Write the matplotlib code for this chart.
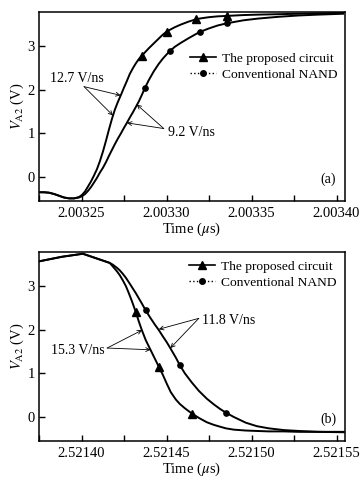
import matplotlib
matplotlib.use("Agg")
import matplotlib.pyplot as plt
from matplotlib.lines import Line2D
from matplotlib.ticker import FixedLocator, FormatStrFormatter, MultipleLocator

plt.rcParams['font.family'] = ['Liberation Serif', 'DejaVu Serif']
plt.rcParams['mathtext.fontset'] = 'stix'

# ---------------- data: panel (a) rising edge ----------------
# time = a_t0 + offset (offset in ps, i.e. 1e-6 us)
a_t0 = 2.00325
a_off = [-25.5, -22.0, -19.1, -16.1, -13.2, -10.3, -7.3, -4.4, -1.5, 0.3,
         2.1, 3.8, 5.6, 7.3, 9.1, 10.8, 12.6, 14.4, 16.1, 17.9,
         19.6, 21.4, 23.2, 24.9, 26.7, 28.4, 30.2, 31.9, 33.7, 35.5,
         37.2, 39.6, 42.5, 45.4, 47.8, 50.1, 51.9, 54.8, 58.3, 63.0,
         67.1, 69.5, 74.7, 80.0, 85.3, 95.3, 104.0, 115.8, 127.5, 139.2,
         153.9]
a_prop = [-0.35, -0.35, -0.36, -0.39, -0.43, -0.47, -0.49, -0.49, -0.46, -0.41,
          -0.33, -0.22, -0.10, 0.03, 0.18, 0.36, 0.58, 0.83, 1.08, 1.33,
          1.54, 1.72, 1.88, 2.04, 2.20, 2.36, 2.49, 2.60, 2.70, 2.78,
          2.85, 2.95, 3.06, 3.17, 3.26, 3.33, 3.37, 3.43, 3.49, 3.56,
          3.61, 3.63, 3.66, 3.68, 3.69, 3.71, 3.72, 3.73, 3.74, 3.75,
          3.76]
a_conv = [-0.35, -0.35, -0.36, -0.39, -0.43, -0.47, -0.49, -0.49, -0.47, -0.44,
          -0.39, -0.32, -0.23, -0.13, -0.02, 0.10, 0.21, 0.34, 0.48, 0.62,
          0.75, 0.88, 1.00, 1.12, 1.24, 1.36, 1.48, 1.60, 1.73, 1.88,
          2.03, 2.22, 2.42, 2.59, 2.71, 2.81, 2.88, 2.98, 3.07, 3.18,
          3.27, 3.32, 3.40, 3.47, 3.52, 3.59, 3.63, 3.67, 3.70, 3.72,
          3.74]
a_prop_marks = [29, 35, 40, 44]
a_conv_marks = [30, 36, 41, 44]

# ---------------- data: panel (b) falling edge ----------------
b_t0 = 2.52140
b_off = [-25.7, -11.6, 0.8, 16.6, 18.4, 20.8, 22.5, 24.3, 26.1, 27.8,
         29.6, 31.9, 33.7, 35.5, 37.8, 40.2, 43.1, 45.5, 47.8, 50.2,
         52.5, 55.5, 57.8, 60.8, 64.9, 69.0, 73.7, 77.8, 81.3, 84.9,
         89.6, 96.6, 103.1, 110.2, 119.0, 127.8, 139.6, 154.3]
b_prop = [3.56, 3.67, 3.74, 3.53, 3.45, 3.34, 3.25, 3.13, 3.00, 2.84,
          2.66, 2.41, 2.19, 1.99, 1.76, 1.57, 1.34, 1.15, 0.97, 0.76,
          0.57, 0.40, 0.30, 0.20, 0.08, -0.02, -0.12, -0.18, -0.22, -0.26,
          -0.29, -0.31, -0.32, -0.33, -0.33, -0.34, -0.34, -0.34]
b_conv = [3.56, 3.67, 3.74, 3.53, 3.49, 3.42, 3.36, 3.28, 3.19, 3.09,
          2.98, 2.84, 2.72, 2.60, 2.44, 2.29, 2.12, 1.99, 1.85, 1.71,
          1.56, 1.36, 1.19, 1.00, 0.79, 0.60, 0.42, 0.29, 0.19, 0.10,
          0.00, -0.13, -0.21, -0.26, -0.30, -0.32, -0.34, -0.35]
b_prop_marks = [11, 17, 24]
b_conv_marks = [14, 22, 29]

labels = ["The proposed circuit", "Conventional NAND"]
xticks_a = [2.00325, 2.00330, 2.00335, 2.00340]
xticks_b = [2.52140, 2.52145, 2.52150, 2.52155]
yticks = [0, 1, 2, 3]

# annotations: (text, text pos, arrow tail, arrow tips), time as offset in ps
ann_a = [("12.7 V/ns", (-2.6, 2.26), (1.5, 2.07), [(23.0, 1.87), (18.5, 1.41)]),
         ("9.2 V/ns", (64.8, 1.01), (48.4, 1.11), [(32.5, 1.66), (26.8, 1.24)])]
ann_b = [("15.3 V/ns", (-2.2, 1.52), (15.1, 1.58), [(35.6, 1.99), (40.6, 1.54)]),
         ("11.8 V/ns", (86.6, 2.22), (69.0, 2.26), [(45.5, 2.01), (52.3, 1.58)])]

W, H = 364, 487
fig = plt.figure(figsize=(W / 100, H / 100), dpi=100)

def px_axes(l, t, r, b):
    return fig.add_axes([l / W, 1 - b / H, (r - l) / W, (b - t) / H])

ax1 = px_axes(39, 12, 345, 201)
ax2 = px_axes(39, 252, 345, 441)

def style(ax, xlim, xticks):
    ax.set_xlim(*xlim)
    ax.set_ylim(-0.55, 3.78)
    ax.xaxis.set_major_locator(FixedLocator(xticks))
    ax.xaxis.set_minor_locator(MultipleLocator(0.000025))
    ax.xaxis.set_major_formatter(FormatStrFormatter('%.5f'))
    ax.yaxis.set_major_locator(FixedLocator(yticks))
    ax.tick_params(axis='both', which='both', direction='in', length=4.5,
                   width=1.0, top=False, right=False, labelsize=10.5, pad=3)
    ax.tick_params(axis='x', which='major', pad=4)
    for s in ax.spines.values():
        s.set_linewidth(1.1)
    ax.set_xlabel(r'Time ($\mu$s)', fontsize=10.5, labelpad=1)
    ax.set_ylabel(r'$V_{\rm A2}$ (V)', fontsize=10.5, labelpad=1)

def draw(ax, t0, off, pv, pm, cv, cm, anns, panel, leg_xy):
    t = [t0 + o * 1e-6 for o in off]
    ax.plot(t, pv, color='black', lw=1.4, marker='^', markersize=5.5,
            markevery=pm)
    ax.plot(t, cv, color='black', lw=1.4, marker='o', markersize=3.8,
            markevery=cm)
    for text, tpos, tail, tips in anns:
        ax.text(t0 + tpos[0] * 1e-6, tpos[1], text, ha='center', va='center',
                fontsize=10)
        for tip in tips:
            ax.annotate('', xy=(t0 + tip[0] * 1e-6, tip[1]),
                        xytext=(t0 + tail[0] * 1e-6, tail[1]),
                        arrowprops=dict(arrowstyle='->', lw=0.6,
                                        color='black', shrinkA=0, shrinkB=0,
                                        mutation_scale=7))
    ax.text(0.945, 0.115, panel, transform=ax.transAxes, ha='center',
            va='center', fontsize=10)
    handles = [Line2D([], [], color='black', lw=1.2, marker='^',
                      markersize=5.5),
               Line2D([], [], color='black', lw=1.0, ls=':', marker='o',
                      markersize=4)]
    ax.legend(handles, labels, loc='upper left', bbox_to_anchor=leg_xy,
              frameon=False, borderpad=0, borderaxespad=0, handlelength=1.9,
              handletextpad=0.45, labelspacing=0.25, fontsize=9.7)

style(ax1, (2.003225, 2.003405), xticks_a)
style(ax2, (2.521375, 2.521555), xticks_b)
draw(ax1, a_t0, a_off, a_prop, a_prop_marks, a_conv, a_conv_marks,
     ann_a, "(a)", (0.495, 0.785))
draw(ax2, b_t0, b_off, b_prop, b_prop_marks, b_conv, b_conv_marks,
     ann_b, "(b)", (0.49, 0.955))

fig.savefig("out.png", dpi=100)
